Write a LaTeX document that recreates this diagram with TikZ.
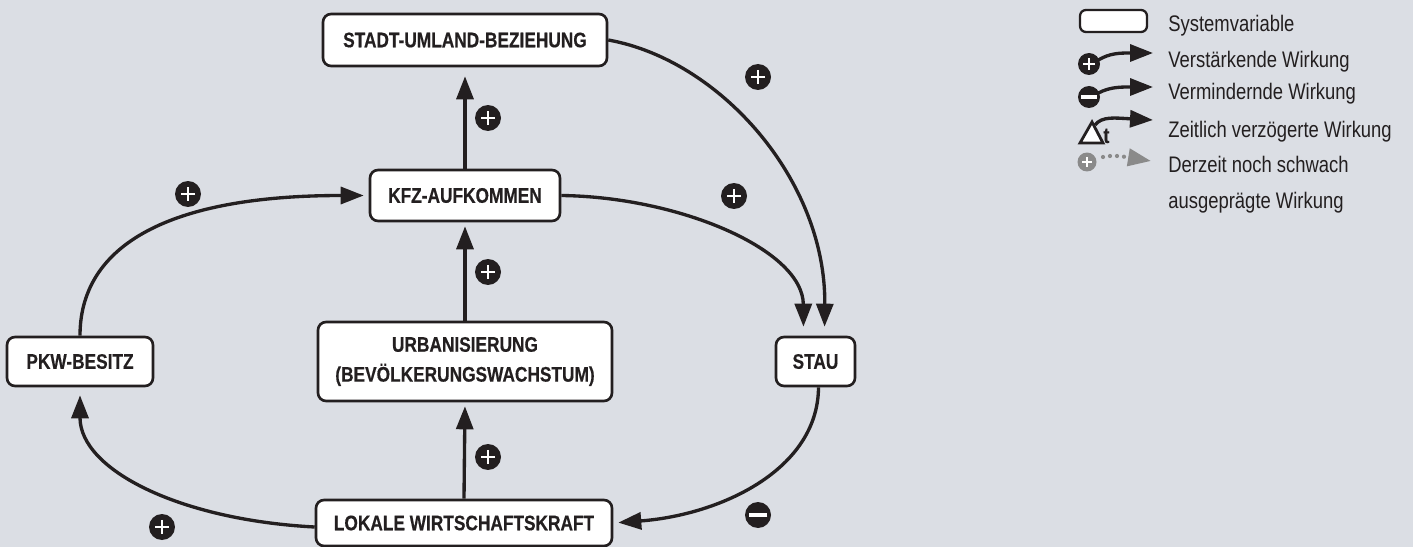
\documentclass[tikz,border=0pt]{standalone}
\usepackage{fontspec}
\setmainfont{Liberation Sans}[FakeStretch=0.82, BoldFeatures={FakeBold=0.4}]
\usetikzlibrary{arrows.meta,calc}
\definecolor{bgcol}{RGB}{219,222,228}
\definecolor{ink}{RGB}{35,31,32}
\definecolor{legray}{RGB}{138,138,138}
\tikzset{
  varbox/.style={draw=ink, fill=white, line width=1.5pt, rounded corners=0.16cm,
    inner sep=0pt, align=center, text=ink,
    font=\bfseries\fontsize{12}{17}\selectfont},
  conn/.style={draw=ink, line width=1.9pt, -{Triangle[length=0.46cm,width=0.34cm]}},
  sign/.style={circle, inner sep=0pt, minimum size=#1, fill=ink},
  plussign/.style={sign=#1, path picture={
    \draw[white, line width=1.6pt]
      ($(path picture bounding box.center)!0.55!(path picture bounding box.north)$) --
      ($(path picture bounding box.center)!0.55!(path picture bounding box.south)$)
      ($(path picture bounding box.center)!0.55!(path picture bounding box.east)$) --
      ($(path picture bounding box.center)!0.55!(path picture bounding box.west)$);}},
  minussign/.style={sign=#1, path picture={
    \draw[white, line width=2.2pt]
      ($(path picture bounding box.center)!0.72!(path picture bounding box.east)$) --
      ($(path picture bounding box.center)!0.72!(path picture bounding box.west)$);}},
  legtext/.style={anchor=base west, inner sep=0pt, text=ink, font=\fontsize{12.8}{14}\selectfont},
}
\begin{document}
\begin{tikzpicture}[x=0.02cm, y=-0.02cm]
\fill[bgcol] (0,0) rectangle (1413,547);
\useasboundingbox (0,0) rectangle (1413,547);

% boxes
\node[varbox, minimum width=5.68cm, minimum height=1.04cm] (stadt) at (465,40) {STADT-UMLAND-BEZIEHUNG};
\node[varbox, minimum width=3.80cm, minimum height=1.02cm] (kfz) at (465,195.5) {KFZ-AUFKOMMEN};
\node[varbox, minimum width=5.88cm, minimum height=1.58cm] (urb) at (465,361.5) {URBANISIERUNG\\(BEVÖLKERUNGSWACHSTUM)};
\node[varbox, minimum width=2.92cm, minimum height=0.98cm] (pkw) at (80,361.5) {PKW-BESITZ};
\node[varbox, minimum width=1.58cm, minimum height=0.98cm] (stau) at (815.5,361.5) {STAU};
\node[varbox, minimum width=5.92cm, minimum height=0.92cm] (lok) at (464,523) {LOKALE WIRTSCHAFTSKRAFT};

% connectors
\draw[conn, shorten >=0.18cm] (kfz.north) -- (stadt.south);
\draw[conn, shorten >=0.08cm] (urb.north) -- (kfz.south);
\draw[conn, shorten >=0.08cm] (lok.north) -- (urb.south);
\draw[conn, shorten >=0.18cm] (stadt.east) .. controls (720,60) and (826,180) .. ($(stau.north)+(9,0)$);
\draw[conn, shorten >=0.18cm] (kfz.east) .. controls (680,197) and (803,250) .. ($(stau.north)+(-12,0)$);
\draw[conn, shorten >=0.10cm] (pkw.north) .. controls (80,250) and (160,195.5) .. (kfz.west);
\draw[conn, shorten >=0.16cm] ($(lok.west)+(0,4)$) .. controls (180,520) and (80,470) .. (pkw.south);
\draw[conn, shorten >=0.10cm] ($(stau.south)+(3,0)$) .. controls (818,470) and (720,515) .. (lok.east);

% signs
\node[plussign=0.52cm] (s1) at (488,118) {};
\node[plussign=0.52cm] (s2) at (488,272) {};
\node[plussign=0.52cm] (s3) at (488,457) {};
\node[plussign=0.52cm] (s4) at (188,194) {};
\node[plussign=0.52cm] (s5) at (734,196) {};
\node[plussign=0.52cm] (s6) at (758,77) {};
\node[minussign=0.52cm] (s7) at (758,515) {};
\node[plussign=0.52cm] (s8) at (162,527) {};

% legend
\node[draw=ink, fill=white, line width=1.3pt, rounded corners=0.12cm, minimum width=1.34cm, minimum height=0.44cm, inner sep=0pt] (lbox) at (1113.5,21) {};
\node[plussign=0.44cm] (lp) at (1089,64) {};
\coordinate (lpe) at (1153,53);
\draw[conn] ([shift={(-2,-4)}]lp.east) .. controls (1110,53) and (1120,53) .. (lpe);
\node[minussign=0.44cm] (lm) at (1089,97) {};
\coordinate (lme) at (1153,87);
\draw[conn] ([shift={(-2,-4)}]lm.east) .. controls (1110,87) and (1120,87) .. (lme);
\fill[white, draw=ink, line width=1.6pt, line join=miter] (1080,143) -- (1092,122) -- (1103,143) -- cycle;
\coordinate (ld) at (1095,125);
\coordinate (lde) at (1153,120);
\node[anchor=base west, inner sep=0pt, text=ink, font=\bfseries\fontsize{12.5}{14}\selectfont] (lt) at (1103,143) {t};
\draw[conn] (ld) .. controls (1102,116) and (1115,118) .. (lde);
\node[plussign=0.38cm, fill=legray] (lg) at (1087,162) {};
\coordinate (lgs) at (1103,157);
\coordinate (lge) at (1151,161);
\draw[legray, line width=2.4pt, line cap=round, dash pattern=on 0pt off 4pt,
  -{Triangle[length=0.46cm,width=0.34cm]}] (lgs) .. controls (1112,155) and (1120,156) .. (lge);

\node[legtext] (t1) at (1168,32) {Systemvariable};
\node[legtext] (t2) at (1168,68) {Verstärkende Wirkung};
\node[legtext] (t3) at (1168,100) {Vermindernde Wirkung};
\node[legtext] (t4) at (1168,138) {Zeitlich verzögerte Wirkung};
\node[legtext] (t5) at (1168,173) {Derzeit noch schwach};
\node[legtext] (t6) at (1168,209) {ausgeprägte Wirkung};
\end{tikzpicture}
\end{document}
